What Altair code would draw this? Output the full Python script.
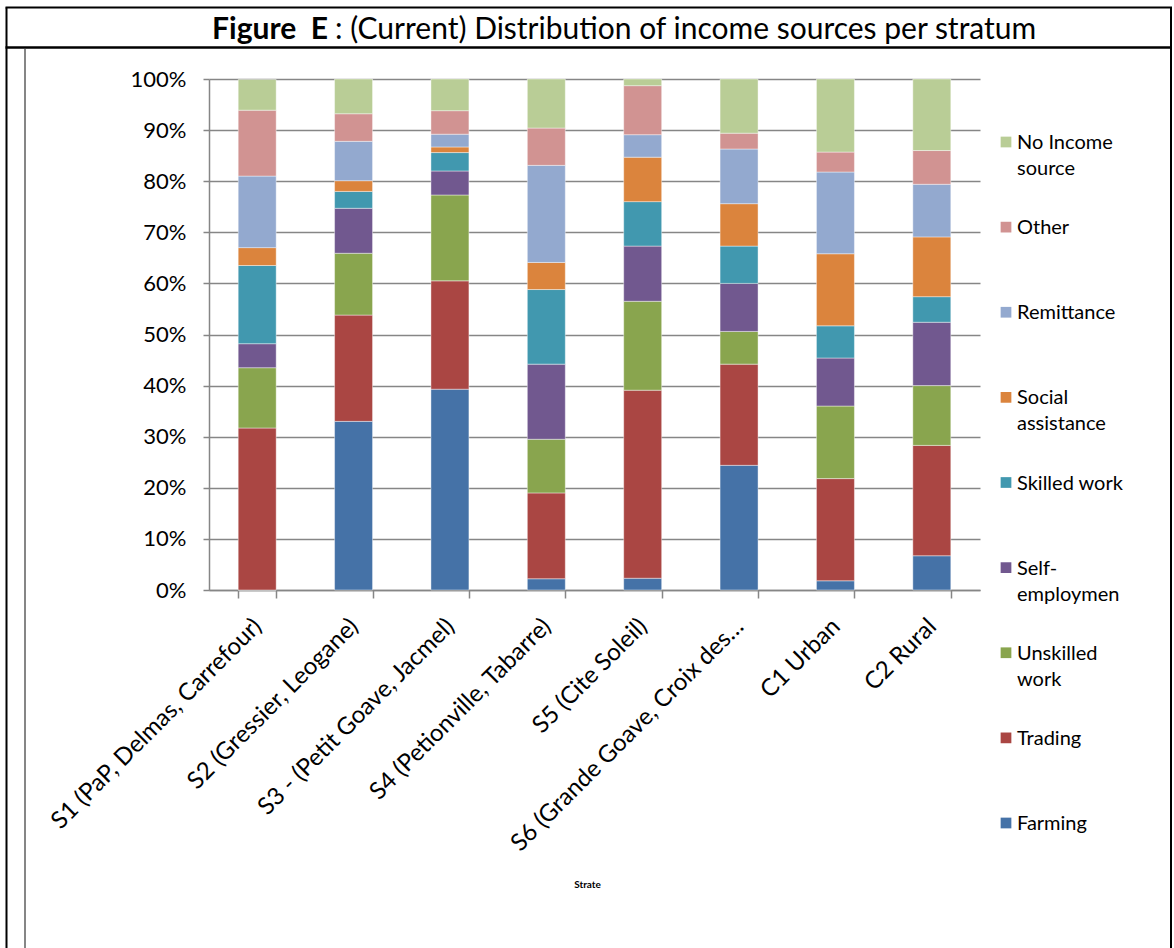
import altair as alt
import pandas as pd

categories = [
    "S1 (PaP, Delmas, Carrefour)",
    "S2 (Gressier, Leogane)",
    "S3 - (Petit Goave, Jacmel)",
    "S4 (Petionville, Tabarre)",
    "S5 (Cite Soleil)",
    "S6 (Grande Goave, Croix des…",
    "C1 Urban",
    "C2 Rural",
]

sources = ["Farming", "Trading", "Unskilled work", "Self-employmen", "Skilled work",
           "Social assistance", "Remittance", "Other", "No Income source"]
legend_labels = ["Farming", "Trading", "Unskilled\nwork", "Self-\nemploymen", "Skilled work",
                 "Social\nassistance", "Remittance", "Other", "No Income\nsource"]
colors = ["#4572A7", "#AA4643", "#89A54E", "#71588F", "#4198AF",
          "#DB843D", "#93A9CF", "#D19392", "#B9CD96"]

farming    = [0.0, 33.0, 39.3, 2.2, 2.3, 24.4, 1.8, 6.7]
trading    = [31.7, 20.8, 21.2, 16.8, 36.8, 19.8, 20.0, 21.6]
unskilled  = [11.8, 12.1, 16.8, 10.5, 17.4, 6.4, 14.2, 11.7]
self_emp   = [4.7, 8.8, 4.7, 14.7, 10.8, 9.4, 9.4, 12.4]
skilled    = [15.3, 3.3, 3.6, 14.6, 8.7, 7.3, 6.3, 5.0]
social     = [3.5, 2.1, 1.1, 5.3, 8.7, 8.3, 14.1, 11.7]
remittance = [14.0, 7.7, 2.5, 19.0, 4.4, 10.7, 16.0, 10.3]
other      = [12.9, 5.4, 4.6, 7.3, 9.6, 3.1, 3.9, 6.6]
no_income  = [6.0, 6.8, 6.2, 9.6, 1.3, 10.6, 14.3, 14.0]

series = [farming, trading, unskilled, self_emp, skilled, social, remittance, other, no_income]

rows = []
for i, (src, vals) in enumerate(zip(sources, series)):
    for cat, v in zip(categories, vals):
        rows.append({"stratum": cat, "source": src, "value": v, "idx": i})
df = pd.DataFrame(rows)

leg = pd.DataFrame({
    "source": sources[::-1],
    "label": legend_labels[::-1],
    "pos": list(range(len(sources))),
})

FONT = "Lato"
GRID = "#868686"
color_scale = alt.Scale(domain=sources, range=colors)

bars = alt.Chart(df).mark_bar(stroke="white", strokeWidth=0.6, strokeOpacity=0.7).encode(
    x=alt.X("stratum:N", sort=categories,
            scale=alt.Scale(paddingInner=0.606, paddingOuter=0.303),
            axis=alt.Axis(title="Strate", labelAngle=-45, labelFontSize=24, labelFont=FONT,
                          labelColor="black", labelPadding=16, labelOffset=-8, labelLimit=400,
                          tickBand="extent", tickSize=8, tickColor=GRID, tickWidth=1.5,
                          domainColor=GRID, domainWidth=1.5, grid=False,
                          titleFont=FONT, titleFontSize=10, titleFontWeight="bold",
                          titleColor="black", titleX=378, titleY=297,
                          titleBaseline="alphabetic")),
    y=alt.Y("value:Q", stack="zero", scale=alt.Scale(domain=[0, 100]),
            axis=alt.Axis(title=None, values=list(range(0, 101, 10)),
                          labelExpr="datum.value + '%'", labelFontSize=22, labelFont=FONT,
                          labelColor="black", labelPadding=17, tickSize=6, tickColor=GRID,
                          tickWidth=1.5, domainColor=GRID, domainWidth=1.5,
                          gridColor=GRID, gridWidth=1.5)),
    color=alt.Color("source:N", scale=color_scale, legend=None),
    order=alt.Order("idx:Q", sort="ascending"),
)

leg_y = alt.Y("pos:Q", scale=alt.Scale(domain=[0, 8], range=[63, 744]), axis=None)
leg_sq = alt.Chart(leg).mark_square(size=115, opacity=1).encode(
    x=alt.value(797), y=leg_y,
    color=alt.Color("source:N", scale=color_scale, legend=None),
)
leg_tx = alt.Chart(leg).mark_text(align="left", baseline="alphabetic", dy=7, lineBreak="\n",
                                  lineHeight=26, font=FONT, fontSize=20, color="black").encode(
    x=alt.value(808), y=leg_y, text="label:N",
)

one = alt.Data(values=[{}])

def rule(x1, x2, y1, y2, color, w):
    return alt.Chart(one).mark_rule(color=color, strokeWidth=w).encode(
        x=alt.value(x1), x2=alt.value(x2), y=alt.value(y1), y2=alt.value(y2))

frame = [
    rule(-202.5, -202.5, -71.5, 869, "black", 2),
    rule(962, 962, -71.5, 869, "black", 2),
    rule(-203.5, 963, -71.5, -71.5, "black", 2),
    rule(-203.5, 963, -31.5, -31.5, "black", 2.5),
    rule(-184, -184, -30, 869, GRID, 2),
]

title_bold = alt.Chart(one).mark_text(align="right", baseline="alphabetic", font=FONT,
                                      fontSize=30, fontWeight="bold", color="black").encode(
    x=alt.value(119), y=alt.value(-40), text=alt.value("Figure\u00a0\u00a0E"))
title_rest = alt.Chart(one).mark_text(align="left", baseline="alphabetic", font=FONT,
                                      fontSize=30, color="black").encode(
    x=alt.value(126), y=alt.value(-40),
    text=alt.value(": (Current) Distribution of income sources per stratum"))

chart = alt.layer(bars, leg_sq, leg_tx, title_bold, title_rest, *frame).resolve_scale(
    y="independent"
).properties(
    width=771, height=511,
    autosize=alt.AutoSizeParams(type="none"),
    padding={"left": 209, "top": 79, "right": 194, "bottom": 358},
    background="white",
).configure_view(stroke=None)

chart.save("out.html", embed_options={"renderer": "svg", "actions": False})
